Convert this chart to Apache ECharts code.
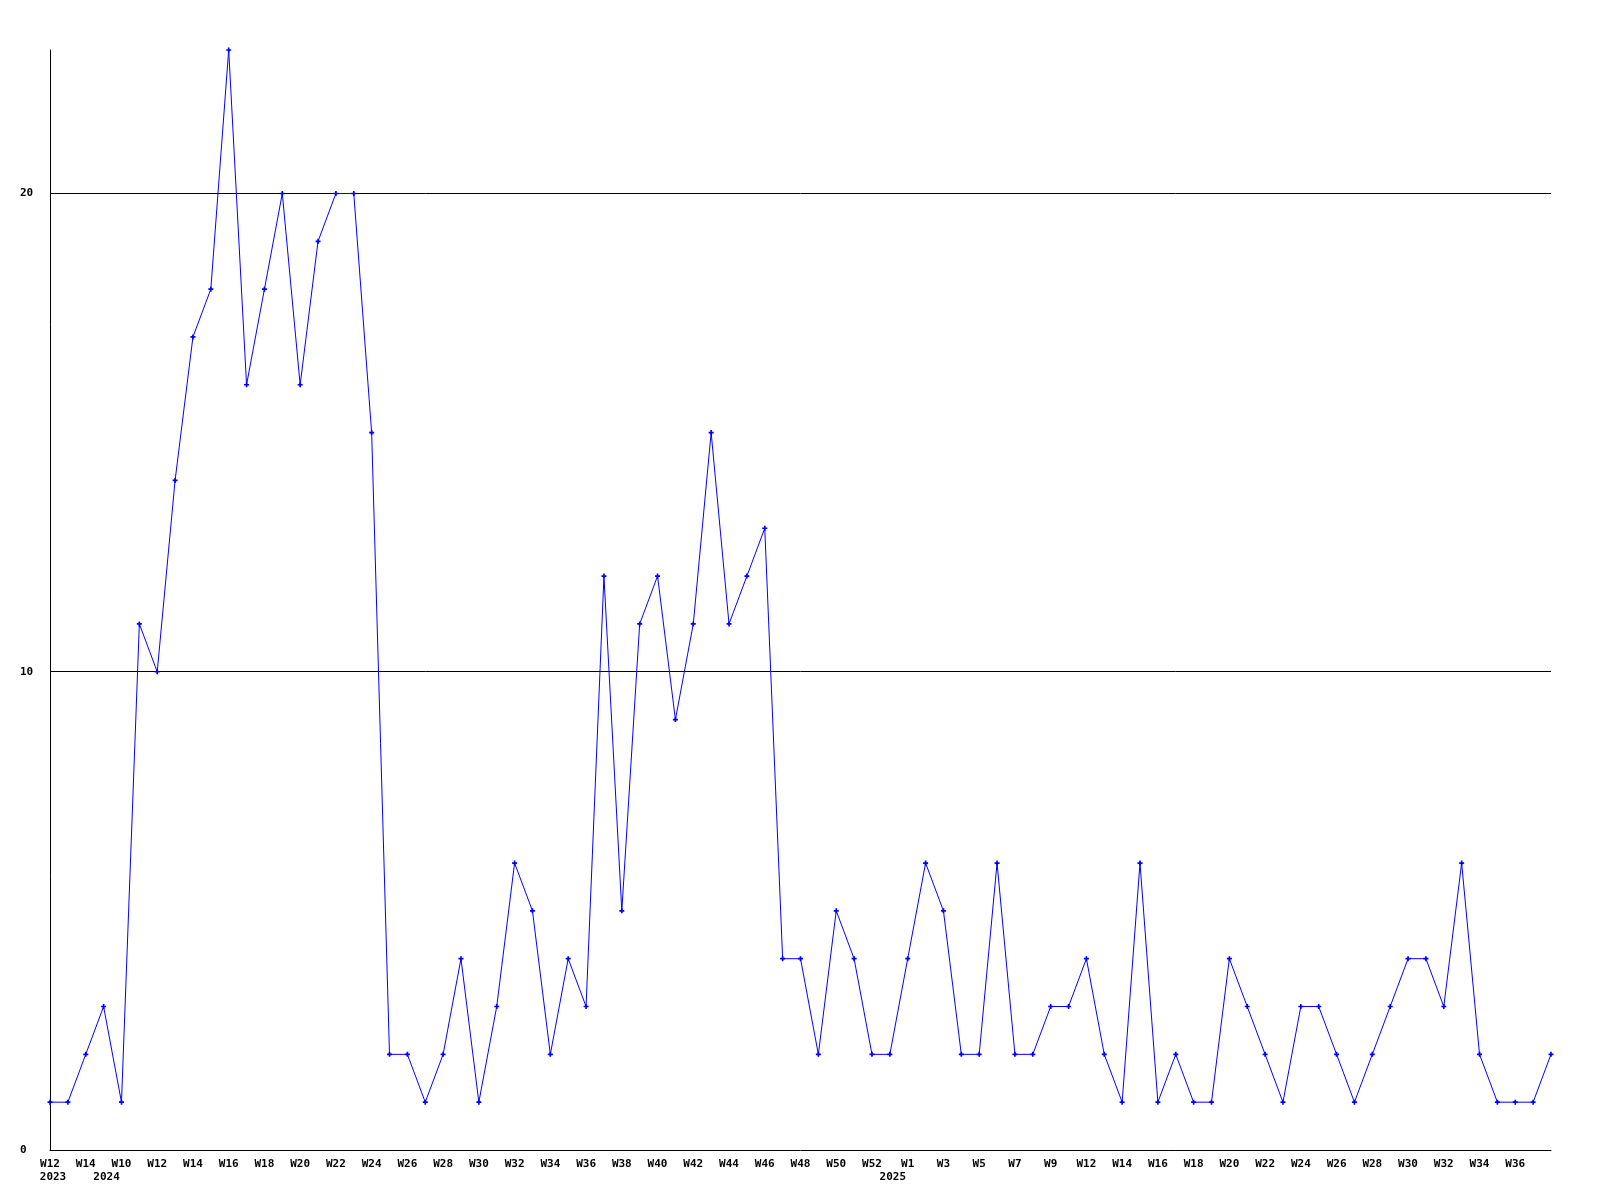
<!DOCTYPE html>
<html>
<head>
<meta charset="utf-8">
<script src="https://cdn.jsdelivr.net/npm/echarts@6/dist/echarts.min.js"></script>
<style>
  html, body { margin: 0; padding: 0; background: #fff; }
  #chart { width: 1600px; height: 1200px; }
</style>
</head>
<body>
<div id="chart"></div>
<script>
// Week categories (year-week)
const weeks = [
  "2023-W12","2023-W13","2023-W14","2023-W15",
  "2024-W10","2024-W11","2024-W12","2024-W13","2024-W14","2024-W15","2024-W16","2024-W17","2024-W18","2024-W19",
  "2024-W20","2024-W21","2024-W22","2024-W23","2024-W24","2024-W25","2024-W26","2024-W27","2024-W28","2024-W29",
  "2024-W30","2024-W31","2024-W32","2024-W33","2024-W34","2024-W35","2024-W36","2024-W37","2024-W38","2024-W39",
  "2024-W40","2024-W41","2024-W42","2024-W43","2024-W44","2024-W45","2024-W46","2024-W47","2024-W48","2024-W49",
  "2024-W50","2024-W51","2024-W52","2024-W53",
  "2025-W1","2025-W2","2025-W3","2025-W4","2025-W5","2025-W6","2025-W7","2025-W8","2025-W9","2025-W10",
  "2025-W12","2025-W13","2025-W14","2025-W15","2025-W16","2025-W17","2025-W18","2025-W19","2025-W20","2025-W21",
  "2025-W22","2025-W23","2025-W24","2025-W25","2025-W26","2025-W27","2025-W28","2025-W29","2025-W30","2025-W31",
  "2025-W32","2025-W33","2025-W34","2025-W35","2025-W36","2025-W37","2025-W38"
];

// Weekly counts
const counts = [
  1, 1, 2, 3,
  1, 11, 10, 14, 17, 18, 23, 16, 18, 20,
  16, 19, 20, 20, 15, 2, 2, 1, 2, 4,
  1, 3, 6, 5, 2, 4, 3, 12, 5, 11,
  12, 9, 11, 15, 11, 12, 13, 4, 4, 2,
  5, 4, 2, 2,
  4, 6, 5, 2, 2, 6, 2, 2, 3, 3,
  4, 2, 1, 6, 1, 2, 1, 1, 4, 3,
  2, 1, 3, 3, 2, 1, 2, 3, 4, 4,
  3, 6, 2, 1, 1, 1, 2
];

// Year labels and the category index they sit under
const yearLabels = ["2023", "2024", "2025"];
const yearLabelIndex = [0, 3, 47];

const yTicks = [0, 10, 20];
const yMax = 23;

const FONT = '"DejaVu Sans Mono", "Liberation Mono", monospace';

const chart = echarts.init(document.getElementById('chart'));
chart.setOption({
  animation: false,
  backgroundColor: '#ffffff',
  grid: { left: 50, right: 49, top: 50, bottom: 50, containLabel: false },
  xAxis: [{
    type: 'category',
    data: weeks,
    boundaryGap: false,
    axisLine: { show: true, lineStyle: { color: '#000', width: 1 } },
    axisTick: { show: false },
    splitLine: { show: false },
    axisLabel: {
      interval: function (idx) { return idx % 2 === 0 && idx < weeks.length - 1; },
      color: '#000',
      fontFamily: FONT,
      fontWeight: 'bold',
      fontSize: 11,
      lineHeight: 13,
      margin: 8,
      formatter: function (val) { return val.split('-')[1]; }
    }
  }, {
    type: 'category',
    data: weeks,
    boundaryGap: false,
    position: 'bottom',
    axisLine: { show: false },
    axisTick: { show: false },
    splitLine: { show: false },
    axisLabel: {
      interval: function (idx) { return yearLabelIndex.indexOf(idx) >= 0; },
      color: '#000',
      fontFamily: FONT,
      fontWeight: 'bold',
      fontSize: 11,
      lineHeight: 13,
      margin: 21,
      padding: [0, 0, 0, 6],
      formatter: function (val, idx) {
        const k = yearLabelIndex.indexOf(idx);
        return k >= 0 ? yearLabels[k] : '';
      }
    }
  }],
  yAxis: {
    type: 'value',
    min: 0,
    max: yMax,
    interval: 10,
    axisLine: { show: true, lineStyle: { color: '#000', width: 1 } },
    axisTick: { show: false },
    splitLine: { show: true, showMinLine: false, showMaxLine: false, lineStyle: { color: '#000', width: 1 } },
    axisLabel: {
      color: '#000',
      fontFamily: FONT,
      fontWeight: 'bold',
      fontSize: 11,
      align: 'left',
      margin: 30,
      showMaxLabel: false,
      formatter: function (v) { return yTicks.indexOf(v) >= 0 ? String(v) : ''; }
    }
  },
  series: [{
    type: 'line',
    data: counts,
    xAxisIndex: 0,
    symbol: 'path://M2,0H4V2H6V4H4V6H2V4H0V2H2Z',
    symbolSize: 5,
    showAllSymbol: true,
    itemStyle: { color: '#0000ff' },
    lineStyle: { color: '#0000ff', width: 1 },
    emphasis: { disabled: true }
  }]
});
</script>
</body>
</html>
